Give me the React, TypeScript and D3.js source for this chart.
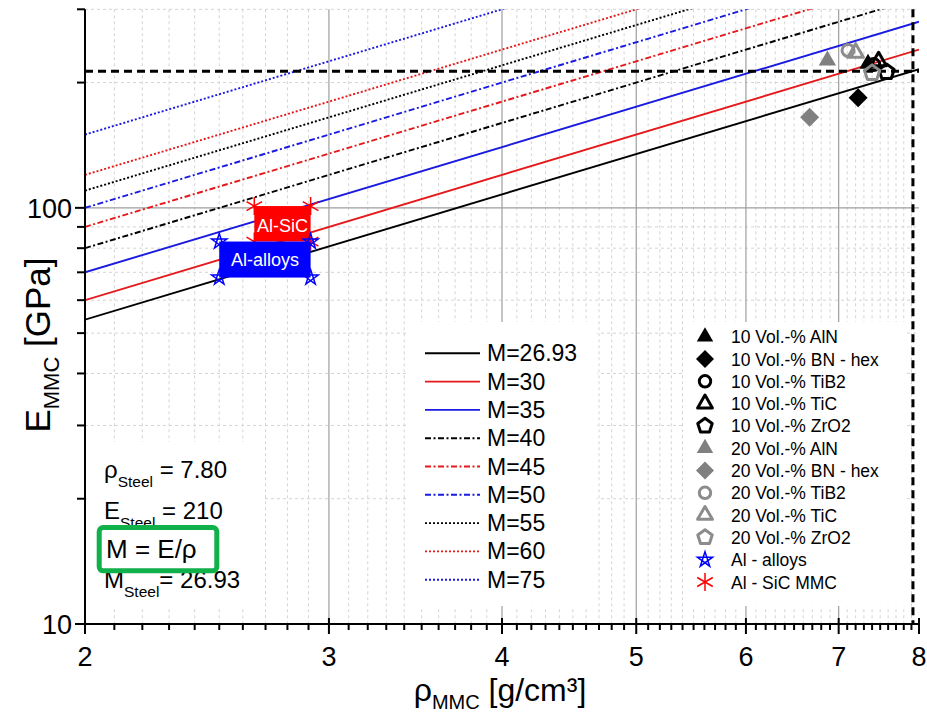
import React from 'react';
import * as d3 from 'd3';

const W = 927;
const H = 715;
const FONT = '"Liberation Sans", Arial, sans-serif';

// specific modulus lines M = E / rho
const modulusValues = [26.93, 30, 35, 40, 45, 50, 55, 60, 75];
const modulusLabels = ['M=26.93', 'M=30', 'M=35', 'M=40', 'M=45', 'M=50', 'M=55', 'M=60', 'M=75'];
const modulusColors = ['#000000', '#e5191b', '#1a1ae0', '#000000', '#e5191b', '#1a1ae0', '#000000', '#e5191b', '#1a1ae0'];
const modulusDash = ['', '', '', '6,2.5,2,2.5', '6,2.5,2,2.5', '6,2.5,2,2.5', '2,2', '2,2', '2,2'];

// axis ticks
const xMajorTicks = [2, 3, 4, 5, 6, 7, 8];
const yMajorTicks = [10, 100];
const yMinorTicks = [20, 30, 40, 50, 60, 70, 80, 90, 200, 300];

// MMC measurements
const seriesNames = [
  '10 Vol.-% AlN', '10 Vol.-% BN - hex', '10 Vol.-% TiB2', '10 Vol.-% TiC', '10 Vol.-% ZrO2',
  '20 Vol.-% AlN', '20 Vol.-% BN - hex', '20 Vol.-% TiB2', '20 Vol.-% TiC', '20 Vol.-% ZrO2',
];
const seriesRho = [7.35, 7.23, 7.42, 7.48, 7.58, 6.87, 6.67, 7.11, 7.2, 7.4];
const seriesE = [222, 184, 221, 225, 212, 226, 165, 239, 236, 211];
const seriesShape = ['triangle', 'diamond', 'circle', 'triangle', 'pentagon', 'triangle', 'diamond', 'circle', 'triangle', 'pentagon'];
const seriesFilled = [true, true, false, false, false, true, true, false, false, false];
const seriesColor = ['#000', '#000', '#000', '#000', '#000', '#808080', '#808080', '#8c8c8c', '#8c8c8c', '#8c8c8c'];

// material ranges (corners)
const alloyRho = [2.5, 2.91];
const alloyE = [68, 83];
const sicRho = [2.65, 2.91];
const sicE = [83, 101];

// steel reference lines
const steelRho = 7.92;
const steelE = 213;

const x = d3.scaleLog().domain([2, 8]).range([85, 919]);
const y = d3.scaleLog().domain([10, 300]).range([624, 9.3]);

function shapePath(shape: string, r: number): string {
  const p = d3.path();
  const poly = (n: number, step: number, start: number) => {
    for (let k = 0; k < n; k++) {
      const a = ((start + k * step) * Math.PI) / 180;
      if (k === 0) p.moveTo(r * Math.cos(a), r * Math.sin(a));
      else p.lineTo(r * Math.cos(a), r * Math.sin(a));
    }
    p.closePath();
  };
  if (shape === 'triangle') poly(3, 120, -90);
  else if (shape === 'diamond') poly(4, 90, -90);
  else if (shape === 'pentagon') poly(5, 72, -90);
  else if (shape === 'pentagram') poly(5, 144, -90);
  else if (shape === 'circle') {
    p.moveTo(r, 0);
    p.arc(0, 0, r, 0, Math.PI * 2);
  } else if (shape === 'asterisk') {
    [90, 30, -30].forEach((deg) => {
      const a = (deg * Math.PI) / 180;
      p.moveTo(r * Math.cos(a), r * Math.sin(a));
      p.lineTo(-r * Math.cos(a), -r * Math.sin(a));
    });
  }
  return p.toString();
}

const markerSize: Record<string, number> = { triangle: 10, diamond: 9.5, circle: 6, pentagon: 8 };

function Marker({ shape, filled, color, cx, cy, scale = 1 }: any) {
  const open = !filled;
  const r = (shape === 'triangle' && open ? 9 : markerSize[shape]) * scale;
  return (
    <path
      d={shapePath(shape, r)}
      transform={`translate(${cx},${cy})`}
      fill={filled ? color : 'none'}
      stroke={color}
      strokeWidth={open ? 3 : 0}
      strokeLinejoin="round"
    />
  );
}

export default function App() {
  const xMinorTicks = d3.range(21, 80).filter((i) => i % 10 !== 0).map((i) => i / 10);
  const line = d3.line<[number, number]>().x((d) => x(d[0])).y((d) => y(d[1]));
  const [xl, xr] = x.domain();

  return (
    <svg width={W} height={H} style={{ position: 'absolute', left: 0, top: 0, background: '#fff' }} fontFamily={FONT}>
      <defs>
        <clipPath id="plot">
          <rect x={85} y={9.3} width={834} height={614.7} />
        </clipPath>
      </defs>

      {/* grid */}
      <g>
        {xMinorTicks.map((t) => (
          <line key={'gx' + t} x1={x(t)} x2={x(t)} y1={y(300)} y2={y(10)} stroke="#d4d4d4" strokeWidth={1} strokeDasharray="3,3" />
        ))}
        {yMinorTicks.map((t) => (
          <line key={'gy' + t} x1={x(2)} x2={x(8)} y1={y(t)} y2={y(t)} stroke="#d4d4d4" strokeWidth={1} strokeDasharray="3,3" />
        ))}
        {xMajorTicks.slice(1, -1).map((t) => (
          <line key={'GX' + t} x1={x(t)} x2={x(t)} y1={y(300)} y2={y(10)} stroke="#9e9e9e" strokeWidth={1.2} />
        ))}
        <line x1={x(2)} x2={x(8)} y1={y(100)} y2={y(100)} stroke="#9e9e9e" strokeWidth={1.2} />
      </g>

      {/* white panels */}
      <rect x={87} y={442} width={177} height={164} fill="#fff" />
      <rect x={406} y={322} width={191} height={284} fill="#fff" />
      <rect x={684} y={322} width={223} height={284} fill="#fff" />

      {/* modulus lines */}
      <g clipPath="url(#plot)">
        {modulusValues.map((m, i) => (
          <path
            key={'m' + m}
            d={line([[xl, xl * m], [xr, xr * m]]) || ''}
            fill="none"
            stroke={modulusColors[i]}
            strokeWidth={1.9}
            strokeDasharray={modulusDash[i] || undefined}
          />
        ))}
      </g>

      {/* material boxes */}
      <rect x={x(sicRho[0])} y={y(sicE[1])} width={x(sicRho[1]) - x(sicRho[0])} height={y(sicE[0]) - y(sicE[1])} fill="#ff0000" />
      {sicRho.map((r) =>
        sicE.map((e) => (
          <path key={'s' + r + e} d={shapePath('asterisk', 9)} transform={`translate(${x(r)},${y(e)})`} stroke="#ff0000" strokeWidth={1.5} fill="none" />
        ))
      )}
      <rect x={x(alloyRho[0])} y={y(alloyE[1])} width={x(alloyRho[1]) - x(alloyRho[0])} height={y(alloyE[0]) - y(alloyE[1])} fill="#0000ff" />
      {alloyRho.map((r) =>
        alloyE.map((e) => (
          <path key={'a' + r + e} d={shapePath('pentagram', 8)} transform={`translate(${x(r)},${y(e)})`} stroke="#0000ff" strokeWidth={1.5} fill="none" />
        ))
      )}
      <text x={(x(sicRho[0]) + x(sicRho[1])) / 2} y={232} fill="#fff" fontSize={18} textAnchor="middle">Al-SiC</text>
      <text x={(x(alloyRho[0]) + x(alloyRho[1])) / 2} y={265.5} fill="#fff" fontSize={18} textAnchor="middle">Al-alloys</text>

      {/* steel reference */}
      <line x1={x(2)} x2={x(8)} y1={y(steelE)} y2={y(steelE)} stroke="#000" strokeWidth={3} strokeDasharray="8,5" />
      <line x1={x(steelRho)} x2={x(steelRho)} y1={y(300)} y2={y(10)} stroke="#000" strokeWidth={3} strokeDasharray="8,5" />

      {/* measurements */}
      {seriesNames.map((n, i) => (
        <Marker key={n} shape={seriesShape[i]} filled={seriesFilled[i]} color={seriesColor[i]} cx={x(seriesRho[i])} cy={y(seriesE[i])} />
      ))}

      {/* axes */}
      <g stroke="#000" strokeWidth={2}>
        <line x1={84} x2={920} y1={624} y2={624} />
        <line x1={85} x2={85} y1={9.3} y2={625} />
        {xMajorTicks.map((t) => (
          <line key={'tx' + t} x1={x(t)} x2={x(t)} y1={618} y2={634} />
        ))}
        {xMinorTicks.map((t) => (
          <line key={'tmx' + t} x1={x(t)} x2={x(t)} y1={624} y2={630} />
        ))}
        {yMajorTicks.map((t) => (
          <line key={'ty' + t} x1={75} x2={85} y1={y(t)} y2={y(t)} />
        ))}
        {yMinorTicks.map((t) => (
          <line key={'tmy' + t} x1={77} x2={85} y1={y(t)} y2={y(t)} />
        ))}
      </g>
      {xMajorTicks.map((t) => (
        <text key={'lx' + t} x={x(t)} y={666} fontSize={27} textAnchor="middle">{t}</text>
      ))}
      {yMajorTicks.map((t) => (
        <text key={'ly' + t} x={72} y={y(t) + 10} fontSize={27} textAnchor="end">{t}</text>
      ))}

      {/* axis titles */}
      <text x={500} y={701} fontSize={32} textAnchor="middle">
        ρ<tspan fontSize={20} dy={8}>MMC</tspan><tspan dy={-8}> [g/cm³]</tspan>
      </text>
      <text transform="translate(50,345) rotate(-90)" fontSize={35} textAnchor="middle">
        E<tspan fontSize={22} dy={9}>MMC</tspan><tspan dy={-9}> [GPa]</tspan>
      </text>

      {/* steel annotation */}
      <g fontSize={24}>
        <text x={104} y={478}>ρ<tspan fontSize={15.5} dy={9}>Steel</tspan><tspan dy={-9}> = 7.80</tspan></text>
        <text x={104} y={519}>E<tspan fontSize={15.5} dy={9}>Steel</tspan><tspan dy={-9}> = 210</tspan></text>
        <text x={104} y={588}>M<tspan fontSize={15.5} dy={9}>Steel</tspan><tspan dy={-9}>= 26.93</tspan></text>
        <rect x={99.2} y={527.5} width={117.6} height={43.3} rx={4} fill="#fff" stroke="#10b04a" strokeWidth={5} />
        <text x={106} y={558} fontSize={26}>M = E/ρ</text>
      </g>

      {/* line legend */}
      {modulusLabels.map((l, i) => (
        <g key={l} transform={`translate(0,${353.3 + i * 28.3})`}>
          <line x1={425} x2={480} y1={0} y2={0} stroke={modulusColors[i]} strokeWidth={1.9} strokeDasharray={modulusDash[i] || undefined} />
          <text x={487} y={8} fontSize={23}>{l}</text>
        </g>
      ))}

      {/* symbol legend */}
      {seriesNames.map((n, i) => (
        <g key={'lg' + n} transform={`translate(0,${336.7 + i * 22.3})`}>
          <Marker shape={seriesShape[i]} filled={seriesFilled[i]} color={seriesColor[i]} cx={705} cy={0} scale={0.95} />
          <text x={731} y={6.5} fontSize={17.5}>{n}</text>
        </g>
      ))}
      <g transform={`translate(0,${336.7 + 10 * 22.3})`}>
        <path d={shapePath('pentagram', 8)} transform="translate(705,0)" stroke="#0000ff" strokeWidth={1.5} fill="none" />
        <text x={731} y={6.5} fontSize={17.5}>Al - alloys</text>
      </g>
      <g transform={`translate(0,${336.7 + 11 * 22.3})`}>
        <path d={shapePath('asterisk', 9)} transform="translate(705,0)" stroke="#ff0000" strokeWidth={1.5} fill="none" />
        <text x={731} y={6.5} fontSize={17.5}>Al - SiC MMC</text>
      </g>
    </svg>
  );
}
